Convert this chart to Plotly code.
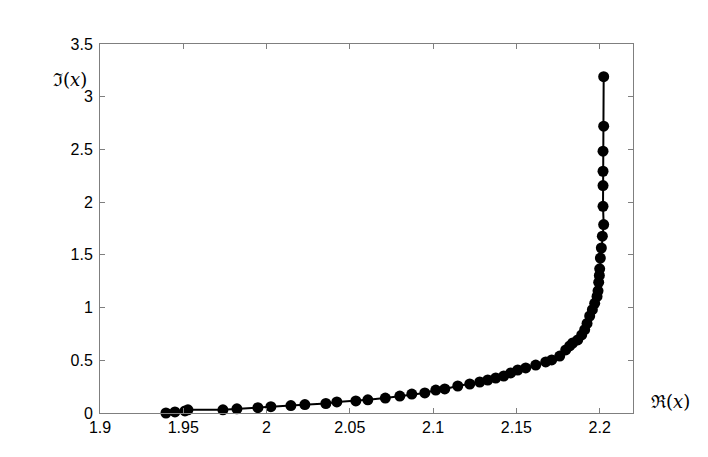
import plotly.graph_objects as go

re_x = [1.9396, 1.945, 1.951, 1.9528, 1.9738, 1.9822, 1.9948, 2.0026, 2.0146, 2.023,
        2.0356, 2.0422, 2.0536, 2.0608, 2.0713, 2.080, 2.0872, 2.095, 2.1016, 2.107,
        2.1148, 2.122, 2.128, 2.1328, 2.1376, 2.1424, 2.1466, 2.1508, 2.1556, 2.1616,
        2.1676, 2.1712, 2.176, 2.1796, 2.182, 2.1838, 2.1868, 2.1892, 2.191, 2.1924,
        2.194, 2.1956, 2.197, 2.1984, 2.199, 2.1994, 2.1998, 2.2, 2.2004, 2.201,
        2.2016, 2.2024, 2.202, 2.202, 2.202, 2.202, 2.2024, 2.2024]
im_x = [0.0, 0.01, 0.02, 0.03, 0.03, 0.04, 0.05, 0.06, 0.07, 0.08,
        0.09, 0.105, 0.115, 0.125, 0.142, 0.161, 0.18, 0.19, 0.218, 0.228,
        0.256, 0.275, 0.294, 0.313, 0.332, 0.351, 0.38, 0.408, 0.427, 0.455,
        0.484, 0.503, 0.54, 0.598, 0.636, 0.664, 0.693, 0.74, 0.79, 0.85,
        0.92, 0.98, 1.04, 1.106, 1.159, 1.239, 1.305, 1.368, 1.47, 1.565,
        1.677, 1.787, 1.96, 2.157, 2.293, 2.483, 2.72, 3.19]

x_ticks = [1.9, 1.95, 2.0, 2.05, 2.1, 2.15, 2.2]
x_labels = ["1.9", "1.95", "2", "2.05", "2.1", "2.15", "2.2"]
y_ticks = [0, 0.5, 1, 1.5, 2, 2.5, 3, 3.5]
y_labels = ["0", "0.5", "1", "1.5", "2", "2.5", "3", "3.5"]

fig = go.Figure()
fig.add_trace(go.Scatter(
    x=re_x, y=im_x, mode='lines+markers',
    line=dict(color='black', width=2),
    marker=dict(color='black', size=11),
    showlegend=False,
    cliponaxis=False
))

axis_common = dict(
    showgrid=False, zeroline=False, showline=True, mirror='ticks',
    linecolor='#7f7f7f', linewidth=1, ticks='inside', ticklen=5,
    tickcolor='#7f7f7f', tickfont=dict(family='Liberation Sans, Arial', size=16, color='black')
)

fig.update_layout(
    width=708, height=457,
    margin=dict(l=92, r=83, t=36, b=52),
    plot_bgcolor='white', paper_bgcolor='white',
    xaxis=dict(range=[1.9, 2.22], tickvals=x_ticks, ticktext=x_labels,
               ticklabelstandoff=0, **axis_common),
    yaxis=dict(range=[0, 3.5], tickvals=y_ticks, ticktext=y_labels,
               ticklabelstandoff=3, **axis_common),
    annotations=[
        dict(text='ℜ(<i>x</i>)', xref='paper', yref='paper', x=1.03, y=0.03,
             xanchor='left', yanchor='middle', showarrow=False,
             font=dict(family='DejaVu Serif, serif', size=18, color='black')),
        dict(text='ℑ(<i>x</i>)', xref='paper', yref='paper', x=-0.02, y=0.905,
             xanchor='right', yanchor='middle', showarrow=False,
             font=dict(family='DejaVu Serif, serif', size=18, color='black')),
    ]
)

fig.write_html("out.html")
